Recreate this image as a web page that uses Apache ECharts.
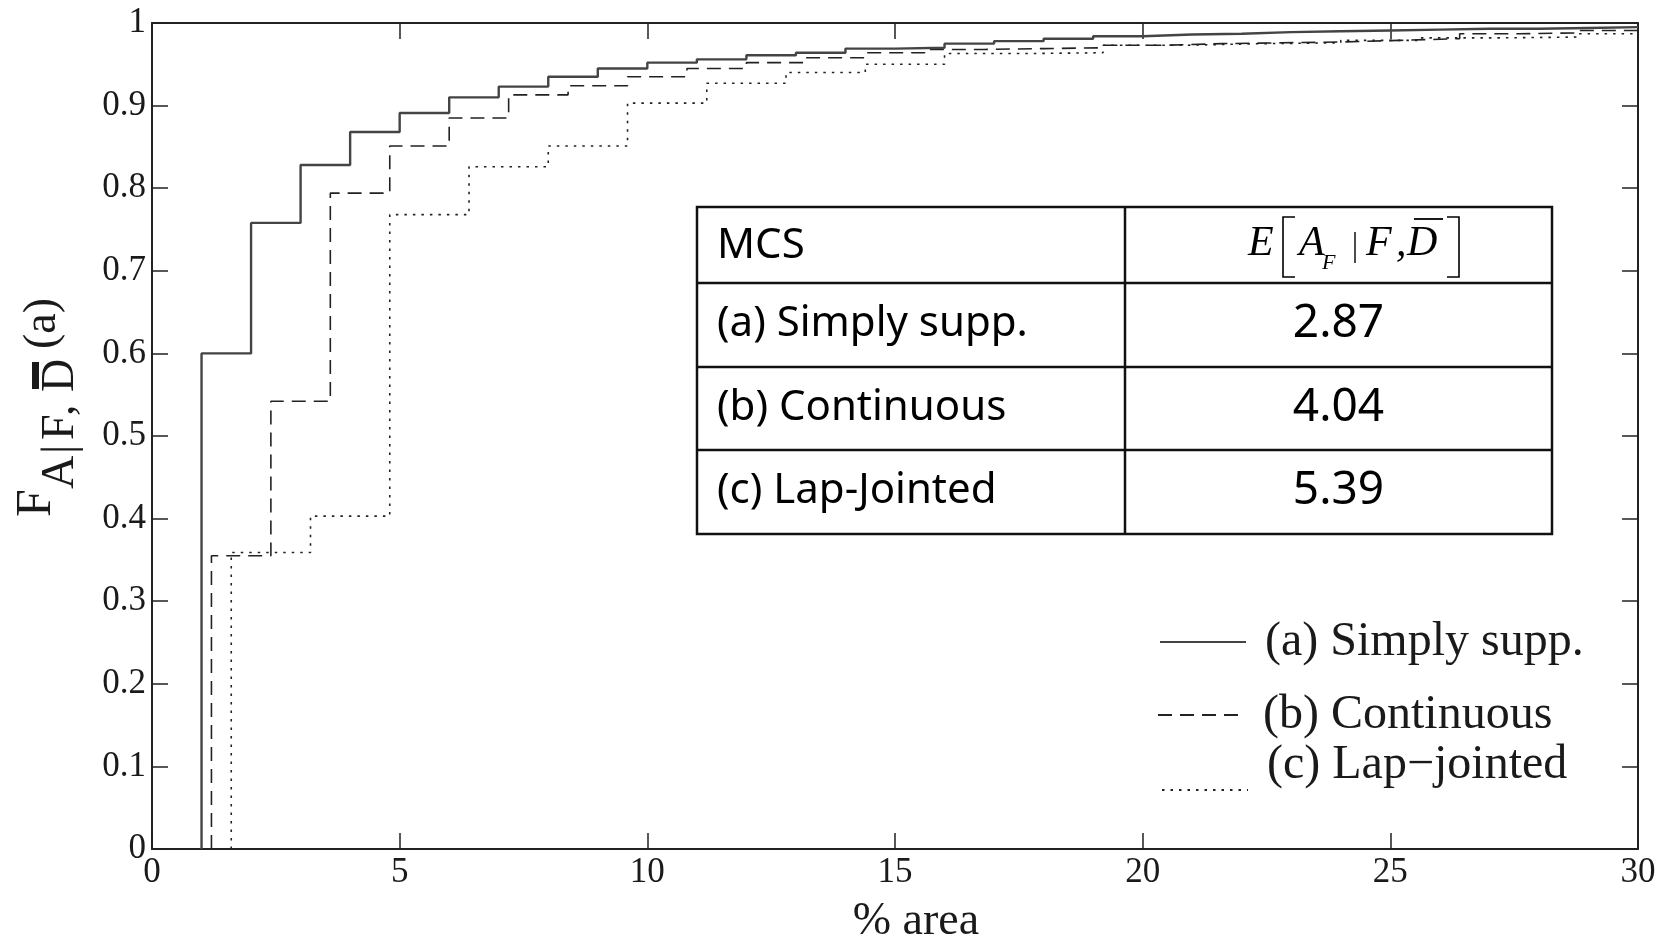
<!DOCTYPE html>
<html>
<head>
    <meta charset="UTF-8">
    <title>CDF of % area</title>
    <script src="https://cdn.jsdelivr.net/npm/echarts@6/dist/echarts.min.js"></script>
    <style>
        html, body { margin: 0; padding: 0; background: #fff; }
        #main { width: 1678px; height: 940px; }
    </style>
</head>
<body>
<div id="main"></div>
<script>
    // step positions (% area) and CDF levels
    var solidX = [1, 2, 3, 4, 5, 6, 7, 8, 9, 10, 11, 12, 13, 14, 15, 16, 17, 18, 19, 20, 21, 22, 23, 24, 25, 26, 27, 28, 29];
    var solidY = [0.600, 0.758, 0.828, 0.868, 0.891, 0.910, 0.923, 0.935, 0.945, 0.952, 0.956, 0.961, 0.964, 0.969, 0.970,
                  0.975, 0.978, 0.981, 0.984, 0.986, 0.987, 0.989, 0.990, 0.991, 0.992, 0.993, 0.993, 0.994, 0.995];

    var dashX = [1.2, 2.4, 3.6, 4.8, 6.0, 7.2, 8.4, 9.6, 10.8, 12.0, 13.2, 14.4, 15.6, 16.8, 18.0, 19.2, 20.4, 21.6, 22.8, 24.0, 25.2, 26.4, 27.6, 28.8];
    var dashY = [0.355, 0.542, 0.794, 0.851, 0.885, 0.913, 0.924, 0.935, 0.945, 0.952, 0.958, 0.964, 0.968, 0.969, 0.970, 0.973,
                 0.975, 0.976, 0.977, 0.979, 0.981, 0.987, 0.988, 0.991];

    var dotX = [1.6, 3.2, 4.8, 6.4, 8.0, 9.6, 11.2, 12.8, 14.4, 16.0, 17.6, 19.2, 20.8, 22.4, 24.0, 25.6, 27.2, 28.8];
    var dotY = [0.359, 0.403, 0.768, 0.826, 0.851, 0.903, 0.927, 0.940, 0.950, 0.963, 0.964, 0.973, 0.975, 0.976, 0.979, 0.982, 0.983, 0.987];

    var seriesNames = ['(a) Simply supp.', '(b) Continuous', '(c) Lap\u2212jointed'];

    // inset table
    var tableHead = ['MCS'];
    var tableRows = ['(a) Simply supp.', '(b) Continuous', '(c) Lap-Jointed'];
    var tableValues = ['2.87', '4.04', '5.39'];

    var xMax = 30;

    function steps(xs, ys) {
        var pts = [[xs[0], 0]];
        for (var i = 0; i < xs.length; i++) {
            pts.push([xs[i], ys[i]]);
        }
        pts.push([xMax, ys[ys.length - 1]]);
        return pts;
    }

    var serif = 'Liberation Serif';
    var sans = 'Noto Sans';
    var ink = '#1a1a1a';

    // table layout
    var tL = 697, tR = 1552, tMid = 1125;
    var tRowsY = [207, 283, 367, 450, 534];
    var rowTextY = [246, 324, 408, 491];

    var graphics = [];
    graphics.push({
        type: 'rect', z: 10,
        shape: { x: tL, y: tRowsY[0], width: tR - tL, height: tRowsY[4] - tRowsY[0] },
        style: { fill: '#fff', stroke: '#111', lineWidth: 2.5 }
    });
    for (var r = 1; r < 4; r++) {
        graphics.push({
            type: 'line', z: 11,
            shape: { x1: tL, y1: tRowsY[r], x2: tR, y2: tRowsY[r] },
            style: { stroke: '#111', lineWidth: 2.5 }
        });
    }
    graphics.push({
        type: 'line', z: 11,
        shape: { x1: tMid, y1: tRowsY[0], x2: tMid, y2: tRowsY[4] },
        style: { stroke: '#111', lineWidth: 2.5 }
    });
    graphics.push({
        type: 'text', z: 12, x: 717, y: rowTextY[0],
        style: { text: tableHead[0], font: '42px "' + sans + '"', fill: '#000', verticalAlign: 'middle' }
    });
    tableRows.forEach(function (t, i) {
        graphics.push({
            type: 'text', z: 12, x: 717, y: rowTextY[i + 1],
            style: { text: t, font: '42px "' + sans + '"', fill: '#000', verticalAlign: 'middle' }
        });
        graphics.push({
            type: 'text', z: 12, x: (tMid + tR) / 2, y: rowTextY[i + 1],
            style: { text: tableValues[i], font: '46px "' + sans + '"', fill: '#000', align: 'center', verticalAlign: 'middle' }
        });
    });

    // header E[A_F | F, D-bar]
    function it(txt, x, y, size) {
        return {
            type: 'text', z: 12, x: x, y: y,
            style: { text: txt, font: 'italic ' + size + 'px "' + serif + '"', fill: '#000', verticalAlign: 'bottom' }
        };
    }
    graphics.push(it('E', 1248, 265, 42));
    graphics.push({ type: 'polyline', z: 12, shape: { points: [[1295, 217], [1283, 217], [1283, 277], [1295, 277]] },
        style: { stroke: '#000', lineWidth: 1.6, fill: null } });
    graphics.push(it('A', 1299, 265, 42));
    graphics.push(it('F', 1322, 274, 22));
    graphics.push({ type: 'line', z: 12, shape: { x1: 1355, y1: 232, x2: 1355, y2: 263 }, style: { stroke: '#000', lineWidth: 1.4 } });
    graphics.push(it('F', 1366, 265, 42));
    graphics.push(it(',', 1396, 265, 42));
    graphics.push(it('D', 1407, 265, 42));
    graphics.push({ type: 'line', z: 12, shape: { x1: 1414, y1: 219, x2: 1443, y2: 219 }, style: { stroke: '#000', lineWidth: 1.8 } });
    graphics.push({ type: 'polyline', z: 12, shape: { points: [[1447, 217], [1459, 217], [1459, 277], [1447, 277]] },
        style: { stroke: '#000', lineWidth: 1.6, fill: null } });

    // rotated y-axis title F_{A|F,D-bar}(a)
    function yt(txt, x, y, size) {
        return { type: 'text', x: x, y: y,
            style: { text: txt, font: size + 'px "' + serif + '"', fill: ink, verticalAlign: 'bottom' } };
    }
    graphics.push({
        type: 'group', x: 52, y: 517, rotation: Math.PI / 2,
        children: [
            yt('F', 0, 10, 50),
            yt('A', 28, 32, 46),
            yt('|', 63, 32, 46),
            yt('F', 77, 32, 46),
            yt(',', 101, 32, 46),
            yt('D', 125, 32, 46),
            { type: 'rect', shape: { x: 128, y: -20, width: 27, height: 7 }, style: { fill: ink } },
            yt('(a)', 168, 14, 46)
        ]
    });

    var myChart = echarts.init(document.getElementById('main'));

    var tickLine = { color: '#222', width: 1.5 };

    // one legend per entry so each row sits where the figure has it;
    // the last one has its label lifted above its line sample
    function legendFor(name, left, top, lifted) {
        var rich = {
            t: { fontFamily: serif, fontSize: 48, color: ink, padding: [0, 0, 0, 14], lineHeight: 50 },
            s: { fontSize: 10, lineHeight: 50 }
        };
        return {
            data: [name],
            left: left,
            top: top,
            padding: 0,
            itemWidth: 86,
            itemHeight: 20,
            itemStyle: { opacity: 0 },
            formatter: lifted ? function (n) { return '{t|' + n + '}\n{s| }'; } : function (n) { return '{t|' + n + '}'; },
            textStyle: { fontFamily: serif, fontSize: 48, color: ink, rich: rich }
        };
    }

    var option = {
        animation: false,
        backgroundColor: '#fff',
        grid: { left: 152, right: 40, top: 23, bottom: 91, containLabel: false, outerBoundsMode: 'none' },
        legend: [
            legendFor(seriesNames[0], 1159, 618, false),
            legendFor(seriesNames[1], 1157, 691, false),
            legendFor(seriesNames[2], 1161, 741, true)
        ],
        xAxis: [
            {
                type: 'value', min: 0, max: xMax, interval: 5,
                name: '% area', nameLocation: 'middle', nameGap: 50,
                nameTextStyle: { fontFamily: serif, fontSize: 46, color: ink, padding: [0, 0, 0, 42] },
                axisLine: { show: true, onZero: false, lineStyle: { color: '#222', width: 2 } },
                axisTick: { inside: true, length: 16, lineStyle: tickLine },
                axisLabel: { fontFamily: serif, fontSize: 35, color: ink, margin: 6 },
                splitLine: { show: false }
            },
            {
                type: 'value', min: 0, max: xMax, interval: 5, position: 'top',
                axisLine: { show: true, onZero: false, lineStyle: { color: '#222', width: 2 } },
                axisTick: { inside: true, length: 16, lineStyle: tickLine },
                axisLabel: { show: false },
                splitLine: { show: false }
            }
        ],
        yAxis: [
            {
                type: 'value', min: 0, max: 1, interval: 0.1,
                axisLine: { show: true, onZero: false, lineStyle: { color: '#222', width: 2 } },
                axisTick: { inside: true, length: 16, lineStyle: tickLine },
                axisLabel: {
                    fontFamily: serif, fontSize: 35, color: ink, margin: 6,
                    formatter: function (v) {
                        var r = Math.round(v * 10) / 10;
                        return (r === 0 || r === 1) ? String(r) : r.toFixed(1);
                    }
                },
                splitLine: { show: false }
            },
            {
                type: 'value', min: 0, max: 1, interval: 0.1, position: 'right',
                axisLine: { show: true, onZero: false, lineStyle: { color: '#222', width: 2 } },
                axisTick: { inside: true, length: 16, lineStyle: tickLine },
                axisLabel: { show: false },
                splitLine: { show: false }
            }
        ],
        series: [
            {
                name: seriesNames[1], type: 'line', step: 'end', symbol: 'none',
                data: steps(dashX, dashY),
                color: '#222',
                lineStyle: { color: '#222', width: 1.6, type: [14, 8] }
            },
            {
                name: seriesNames[2], type: 'line', step: 'end', symbol: 'none',
                data: steps(dotX, dotY),
                color: '#222',
                lineStyle: { color: '#222', width: 1.6, type: [2.5, 6] }
            },
            {
                name: seriesNames[0], type: 'line', step: 'end', symbol: 'none',
                data: steps(solidX, solidY),
                color: '#444',
                lineStyle: { color: '#444', width: 2.4, type: 'solid' }
            }
        ],
        graphic: graphics
    };

    myChart.setOption(option);
</script>
</body>
</html>
